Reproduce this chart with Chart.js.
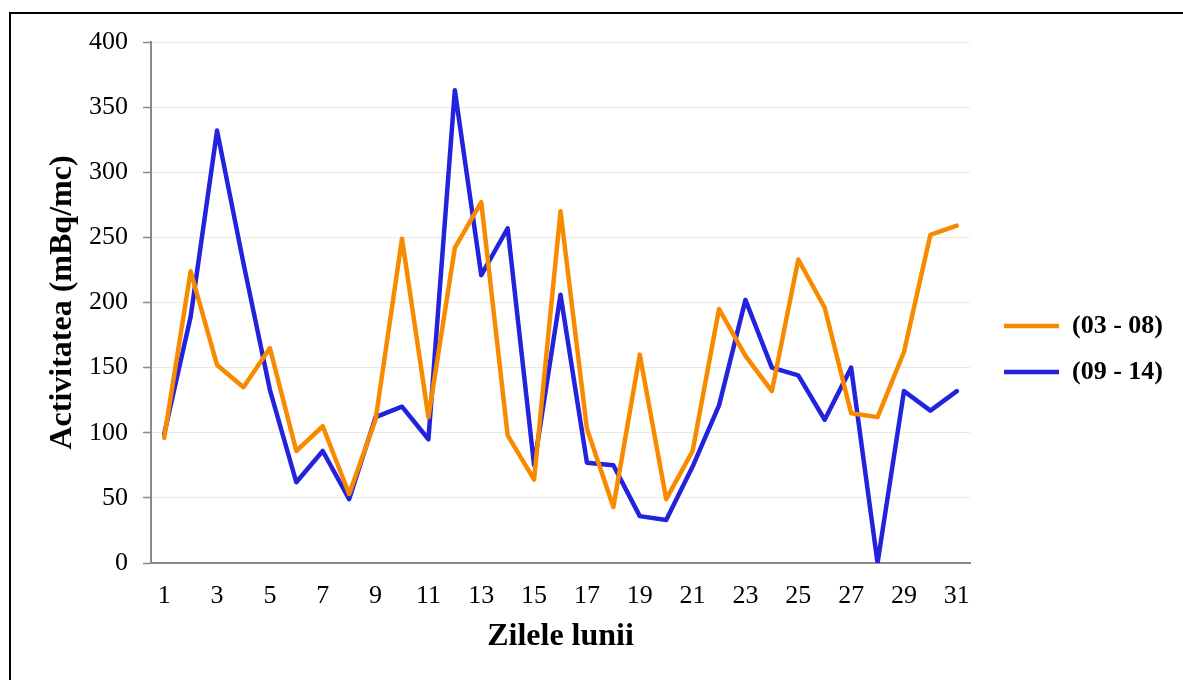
<!DOCTYPE html>
<html>
<head>
<meta charset="utf-8">
<script src="https://cdn.jsdelivr.net/npm/chart.js@4/dist/chart.umd.min.js"></script>
<style>
  html, body { margin: 0; padding: 0; background: #fff; overflow: hidden; }
  #frame { position: absolute; left: 9px; top: 12px; width: 1200px; height: 700px; border: 2px solid #000; box-sizing: border-box; }
  #wrap { position: absolute; left: 0; top: 0; width: 1183px; height: 680px; }
</style>
</head>
<body>
<div id="frame"></div>
<div id="wrap"><canvas id="c" width="1183" height="680"></canvas></div>
<script>
const days = ['1','2','3','4','5','6','7','8','9','10','11','12','13','14','15','16','17','18','19','20','21','22','23','24','25','26','27','28','29','30','31'];
const seriesA_name = '(03 - 08)';
const seriesA = [96, 224, 152, 135, 165, 86, 105, 53, 110, 249, 112, 242, 277, 98, 64, 270, 103, 43, 160, 49, 86, 195, 159, 132, 233, 196, 115, 112, 162, 252, 259];
const seriesB_name = '(09 - 14)';
const seriesB = [99, 189, 332, 230, 133, 62, 86, 49, 112, 120, 95, 363, 221, 257, 75, 206, 77, 75, 36, 33, 74, 121, 202, 150, 144, 110, 150, 0, 132, 117, 132];
const yTitle = 'Activitatea (mBq/mc)';
const xTitle = 'Zilele lunii';

const serif = "'Liberation Serif', 'Times New Roman', serif";
const axisGray = '#8a8a8a';

const legendShift = {
  id: 'legendShift',
  afterLayout(chart) {
    const lg = chart.legend;
    if (!lg) return;
    const w = lg.right - lg.left;
    lg.left = lg.left + 14;
    lg.right = lg.left + w;
    lg.top = 18;
    lg.bottom = 680;
  }
};

new Chart(document.getElementById('c'), {
  type: 'line',
  data: {
    labels: days,
    datasets: [
      { label: seriesA_name, data: seriesA, borderColor: '#F88A00', backgroundColor: '#F88A00',
        borderWidth: 4.5, pointRadius: 0, tension: 0, borderCapStyle: 'round', borderJoinStyle: 'round' },
      { label: seriesB_name, data: seriesB, borderColor: '#2323DE', backgroundColor: '#2323DE',
        borderWidth: 4.5, pointRadius: 0, tension: 0, borderCapStyle: 'round', borderJoinStyle: 'round' }
    ]
  },
  options: {
    responsive: false,
    animation: false,
    layout: { padding: { top: 42, left: 20, right: 24, bottom: 0 } },
    plugins: {
      legend: {
        position: 'right',
        labels: {
          usePointStyle: true,
          pointStyle: 'line',
          pointStyleWidth: 55,
          padding: 20,
          color: '#000',
          font: { family: serif, size: 26, weight: 'bold' }
        }
      },
      tooltip: { enabled: false }
    },
    scales: {
      x: {
        offset: true,
        grid: { display: false, drawTicks: false },
        border: { color: axisGray, width: 2 },
        ticks: {
          autoSkip: false, maxRotation: 0, padding: 18, color: '#000',
          font: { family: serif, size: 26 },
          callback: function(v, i) { return i % 2 === 0 ? days[i] : ''; }
        },
        title: { display: true, text: xTitle, color: '#000', padding: { top: 0, bottom: 24 },
          font: { family: serif, size: 32, weight: 'bold' } },
        afterFit(s) { s.height = 117; }
      },
      y: {
        min: 0, max: 400,
        grid: { color: '#EAEAE0', lineWidth: 1, tickColor: axisGray, tickLength: 8, tickWidth: 1.5 },
        border: { color: axisGray, width: 2 },
        ticks: { stepSize: 50, padding: 15, color: '#000', font: { family: serif, size: 26 } },
        title: { display: true, text: yTitle, color: '#000', padding: { top: 24, bottom: 0 },
          font: { family: serif, size: 32, weight: 'bold' } },
        afterFit(s) { s.width = 131; }
      }
    }
  },
  plugins: [legendShift]
});
</script>
</body>
</html>
